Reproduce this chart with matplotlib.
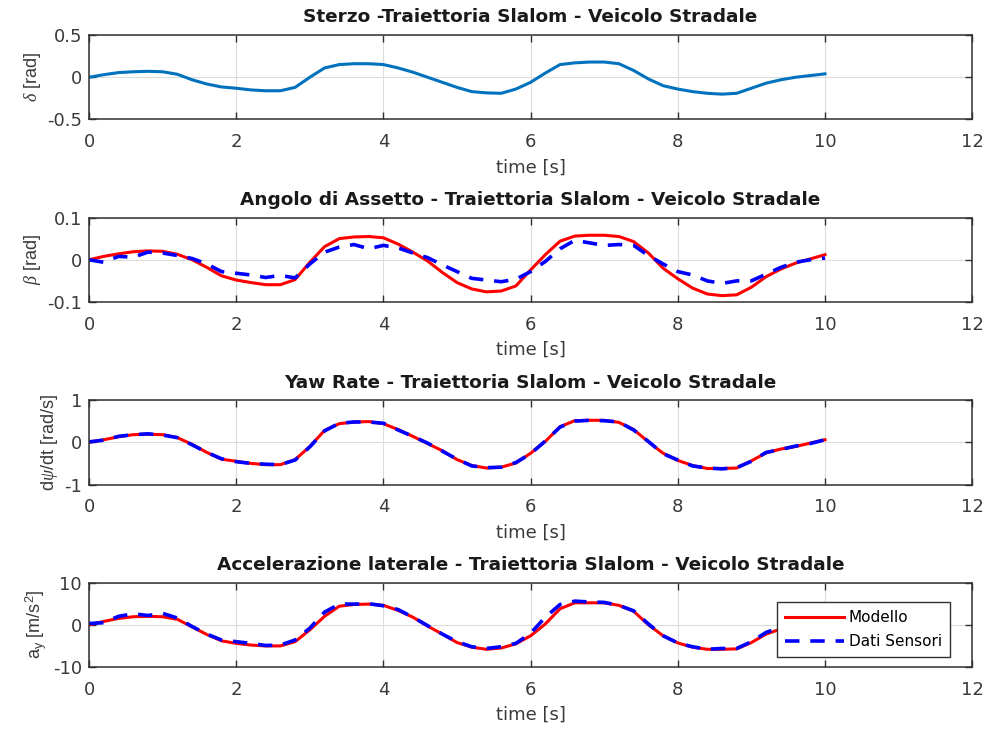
import matplotlib
matplotlib.use("Agg")
import matplotlib.pyplot as plt
import numpy as np

plt.rcParams['font.family'] = ['DejaVu Sans']
plt.rcParams['axes.unicode_minus'] = False
plt.rcParams['mathtext.fontset'] = 'custom'
plt.rcParams['mathtext.rm'] = 'Liberation Sans'
plt.rcParams['mathtext.it'] = 'Liberation Serif:italic'

# time base [s]
t = np.round(np.arange(0, 10.01, 0.2), 1)

# steering angle [rad]
steer = [0.00, 0.03, 0.055, 0.065, 0.07, 0.065, 0.035, -0.03, -0.08, -0.115,
         -0.13, -0.15, -0.16, -0.16, -0.12, 0.00, 0.11, 0.15, 0.16, 0.16,
         0.15, 0.11, 0.06, 0.00, -0.06, -0.12, -0.17, -0.185, -0.19, -0.14,
         -0.06, 0.05, 0.15, 0.17, 0.18, 0.18, 0.16, 0.08, -0.02, -0.10,
         -0.14, -0.17, -0.19, -0.20, -0.19, -0.13, -0.07, -0.03, 0.00, 0.02,
         0.04]

# sideslip angle [rad]
beta_mod = [0.000, 0.008, 0.014, 0.019, 0.021, 0.020, 0.013, 0.000, -0.018, -0.038,
            -0.048, -0.054, -0.059, -0.059, -0.047, -0.006, 0.031, 0.050, 0.054, 0.055,
            0.052, 0.037, 0.018, -0.003, -0.030, -0.054, -0.069, -0.076, -0.074, -0.062,
            -0.024, 0.012, 0.044, 0.056, 0.058, 0.058, 0.055, 0.043, 0.016, -0.020,
            -0.045, -0.067, -0.081, -0.085, -0.083, -0.065, -0.040, -0.022, -0.008, 0.002,
            0.012]
beta_sens = [0.000, -0.006, 0.008, 0.006, 0.018, 0.016, 0.010, 0.003, -0.010, -0.028,
             -0.032, -0.036, -0.042, -0.037, -0.043, -0.010, 0.018, 0.030, 0.036, 0.026,
             0.034, 0.028, 0.016, 0.005, -0.012, -0.028, -0.044, -0.048, -0.052, -0.046,
             -0.028, -0.004, 0.026, 0.046, 0.040, 0.034, 0.036, 0.034, 0.010, -0.010,
             -0.028, -0.036, -0.050, -0.056, -0.050, -0.050, -0.034, -0.018, -0.006, 0.000,
             0.004]

# yaw rate [rad/s]
yaw_mod = [0.00, 0.06, 0.13, 0.18, 0.19, 0.18, 0.11, -0.05, -0.24, -0.40,
           -0.45, -0.50, -0.53, -0.53, -0.41, -0.10, 0.28, 0.44, 0.48, 0.49,
           0.44, 0.30, 0.14, -0.03, -0.20, -0.41, -0.55, -0.61, -0.59, -0.49,
           -0.26, 0.02, 0.37, 0.51, 0.52, 0.52, 0.47, 0.30, 0.01, -0.26,
           -0.43, -0.55, -0.62, -0.62, -0.61, -0.44, -0.25, -0.16, -0.10, -0.02,
           0.06]
yaw_sens = [0.01, 0.05, 0.14, 0.18, 0.20, 0.17, 0.11, -0.06, -0.24, -0.39,
            -0.46, -0.50, -0.52, -0.53, -0.42, -0.11, 0.27, 0.45, 0.48, 0.48,
            0.45, 0.29, 0.14, -0.02, -0.21, -0.40, -0.56, -0.60, -0.59, -0.48,
            -0.27, 0.03, 0.36, 0.50, 0.52, 0.51, 0.48, 0.29, 0.02, -0.27,
            -0.42, -0.56, -0.61, -0.63, -0.60, -0.45, -0.24, -0.17, -0.09, -0.03,
            0.06]

# lateral acceleration [m/s^2]
ay_mod = [0.0, 0.8, 1.5, 1.9, 2.0, 1.9, 1.3, -0.5, -2.3, -3.8,
          -4.4, -4.8, -5.0, -5.0, -4.0, -1.2, 2.0, 4.4, 4.8, 4.9,
          4.6, 3.4, 1.8, -0.3, -2.2, -4.2, -5.3, -5.8, -5.5, -4.5,
          -2.6, 0.2, 3.8, 5.2, 5.2, 5.2, 4.6, 3.2, 0.0, -2.6,
          -4.3, -5.3, -5.8, -5.8, -5.7, -4.2, -2.2, -1.0, -0.3, 0.2,
          0.6]
ay_sens = [0.3, 0.5, 2.0, 2.6, 2.2, 2.7, 1.6, -0.4, -2.2, -3.6,
           -4.0, -4.4, -4.9, -4.8, -3.6, -0.8, 3.0, 4.9, 4.9, 5.0,
           4.5, 3.6, 1.8, -0.2, -2.2, -4.0, -5.2, -5.6, -5.2, -4.4,
           -2.0, 1.8, 4.8, 5.6, 5.4, 5.3, 4.6, 3.3, 0.2, -2.6,
           -4.3, -5.2, -5.8, -5.6, -5.6, -4.0, -1.8, -0.6, 0.0, 0.3,
           0.6]

titles = ["Sterzo -Traiettoria Slalom - Veicolo Stradale",
          "Angolo di Assetto - Traiettoria Slalom - Veicolo Stradale",
          "Yaw Rate - Traiettoria Slalom - Veicolo Stradale",
          "Accelerazione laterale - Traiettoria Slalom - Veicolo Stradale"]
ylabels = [r"$\delta$ [rad]", r"$\beta$ [rad]", r"d$\psi$/dt [rad/s]",
           r"a$_\mathregular{y}$ [m/s$^\mathregular{2}$]"]
ylims = [0.5, 0.1, 1, 10]
yticklabels = [["-0.5", "0", "0.5"], ["-0.1", "0", "0.1"],
               ["-1", "0", "1"], ["-10", "0", "10"]]

fig, axs = plt.subplots(4, 1, figsize=(9.85, 7.29), dpi=100)
fig.subplots_adjust(left=0.0904, right=0.987, top=0.952, bottom=0.085, hspace=1.16)

dash = (0, (4, 3))
axs[0].plot(t, steer, color='#0072BD', lw=2.2)
axs[1].plot(t, beta_mod, color='red', lw=2.2, label='Modello')
axs[1].plot(t, beta_sens, color='blue', lw=2.6, ls=dash, label='Dati Sensori')
axs[2].plot(t, yaw_mod, color='red', lw=2.2, label='Modello')
axs[2].plot(t, yaw_sens, color='blue', lw=2.6, ls=dash, label='Dati Sensori')
axs[3].plot(t, ay_mod, color='red', lw=2.2, label='Modello')
axs[3].plot(t, ay_sens, color='blue', lw=2.6, ls=dash, label='Dati Sensori')

for i, ax in enumerate(axs):
    lim = ylims[i]
    ax.set_xlim(0, 12)
    ax.set_ylim(-lim, lim)
    ax.set_xticks(np.arange(0, 13, 2))
    ax.set_yticks([-lim, 0, lim])
    ax.set_yticklabels(yticklabels[i])
    ax.grid(True, color='#dcdcdc', lw=0.8)
    ax.set_axisbelow(True)
    ax.tick_params(direction='in', length=5, width=1, top=True, right=True,
                   labelsize=13, labelcolor='#3a3a3a', color='#303030')
    ax.tick_params(axis='x', pad=10)
    ax.tick_params(axis='y', pad=5)
    for sp in ax.spines.values():
        sp.set_color('#303030')
        sp.set_linewidth(1.1)
    ax.set_title(titles[i], fontsize=13.3, fontweight='bold', color='#1a1a1a', pad=9)
    ax.set_xlabel("time [s]", fontsize=13, color='#3a3a3a', labelpad=5)
    ax.set_ylabel(ylabels[i], fontsize=13, color='#3a3a3a', labelpad=3,
                  family='Liberation Sans')

leg = axs[3].legend(loc='lower right', bbox_to_anchor=(0.983, 0.03),
                    fontsize=11, frameon=True, fancybox=False, handlelength=3.9,
                    borderpad=0.5, labelspacing=0.6, handletextpad=0.3)
leg.get_frame().set_edgecolor('#303030')
leg.get_frame().set_linewidth(1.0)
leg.get_frame().set_alpha(1)

fig.savefig("out.png", dpi=100)
